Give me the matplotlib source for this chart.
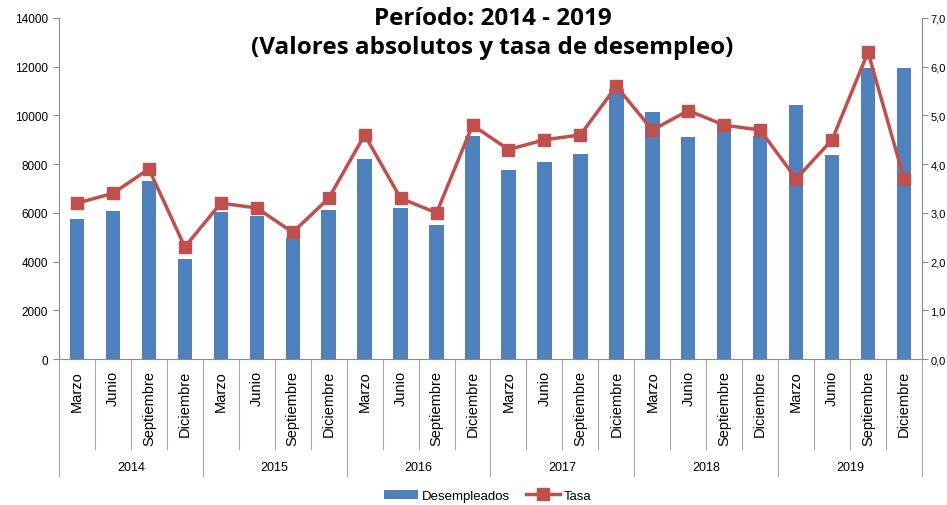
import numpy as np
import matplotlib
matplotlib.use('Agg')
import matplotlib.pyplot as plt
import matplotlib.transforms as mtransforms

# datos
years = ['2014', '2015', '2016', '2017', '2018', '2019']
months = ['Marzo', 'Junio', 'Septiembre', 'Diciembre']
desempleados = [5750, 6090, 7310, 4110,
                6030, 5870, 4960, 6120,
                8210, 6190, 5500, 9150,
                7760, 8090, 8420, 11090,
                10140, 9120, 9650, 9150,
                10430, 8380, 11950, 11950]
tasa = [3.2, 3.4, 3.9, 2.3,
        3.2, 3.1, 2.6, 3.3,
        4.6, 3.3, 3.0, 4.8,
        4.3, 4.5, 4.6, 5.6,
        4.7, 5.1, 4.8, 4.7,
        3.7, 4.5, 6.3, 3.7]

bar_color = '#4F81BD'
line_color = '#C0504D'
axis_gray = '#8C8C8C'
tick_font = 'Liberation Sans'

labels = [m for y in years for m in months]
x = np.arange(len(labels))

fig = plt.figure(figsize=(9.47, 5.06), dpi=100)
ax = fig.add_axes([0.0623, 0.2885, 0.9113, 0.674])

ax.bar(x, desempleados, width=0.4, color=bar_color, label='Desempleados', zorder=2)
ax.set_xlim(-0.5, len(labels) - 0.5)
ax.set_ylim(0, 14000)
ax.set_yticks(range(0, 14001, 2000))
ax.set_yticklabels([str(v) for v in range(0, 14001, 2000)], fontsize=8.5, family=tick_font)

ax.set_xticks(x)
ax.set_xticklabels(labels, rotation=90, fontsize=10.5, family=tick_font, va='top')
ax.tick_params(axis='x', length=0, pad=8)
ax.tick_params(axis='y', length=4, color=axis_gray, pad=4)

for side in ['top', 'right']:
    ax.spines[side].set_visible(False)
ax.spines['left'].set_color(axis_gray)
ax.spines['bottom'].set_color(axis_gray)

ax2 = ax.twinx()
ax2.plot(x, tasa, color=line_color, linewidth=2.5, marker='s', markersize=9,
         label='Tasa', zorder=3)
ax2.set_ylim(0, 7)
ax2.set_yticks(range(0, 8))
ax2.set_yticklabels(['%d,0' % v for v in range(0, 8)], fontsize=8, family=tick_font)
ax2.tick_params(axis='y', length=4, color=axis_gray, pad=2)
for side in ['top', 'left', 'bottom']:
    ax2.spines[side].set_visible(False)
ax2.spines['right'].set_color(axis_gray)

# separadores de categorías
trans = mtransforms.blended_transform_factory(ax.transData, ax.transAxes)
for i in range(len(labels) + 1):
    xs = i - 0.5
    bottom = -0.343 if i % 4 == 0 else -0.264
    ax.plot([xs, xs], [0, bottom], color='#A6A6A6', linewidth=0.8,
            transform=trans, clip_on=False)
for j, yr in enumerate(years):
    ax.text(j * 4 + 1.5, -0.317, yr, transform=trans, ha='center', va='center',
            fontsize=9, family=tick_font)

# título
fig.text(0.52, 0.963, 'Período: 2014 - 2019', ha='center', va='center',
         fontsize=17.5, fontweight='bold', family='Open Sans')
fig.text(0.52, 0.905, '(Valores absolutos y tasa de desempleo)', ha='center',
         va='center', fontsize=17.5, fontweight='bold', family='Open Sans')

h1, l1 = ax.get_legend_handles_labels()
h2, l2 = ax2.get_legend_handles_labels()
fig.legend(h1 + h2, l1 + l2, loc='center', bbox_to_anchor=(0.515, 0.018), ncol=2,
           frameon=False, prop={'family': tick_font, 'size': 9.5},
           handlelength=2.6, columnspacing=1.2, handletextpad=0.3)

fig.savefig('out.png', dpi=100)
